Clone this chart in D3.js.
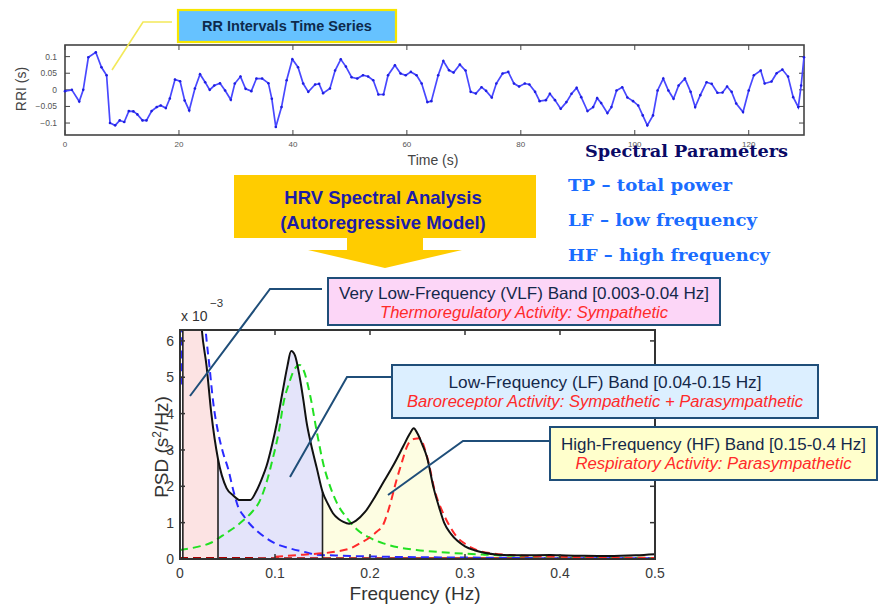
<!DOCTYPE html>
<html>
<head>
<meta charset="utf-8">
<script src="https://cdn.jsdelivr.net/npm/d3@7"></script>
<style>
  body { margin: 0; background: #fff; }
  svg { display: block; font-family: "Liberation Sans", Arial, sans-serif; }
</style>
</head>
<body>
<svg id="fig" width="887" height="610"></svg>
<script>
// ---- RR interval time series ----
const rrTime = [0, 1.2, 2.5, 3.2, 4.1, 5.4, 6.4, 7.3, 7.9, 8.8, 9.6, 10.4, 11.2, 12, 12.7, 13.6, 14.3, 15.2, 16.1, 16.8,
  17.7, 18.4, 19.3, 20.2, 21, 21.8, 22.8, 23.7, 24.6, 25.4, 26.2, 27.2, 28.1, 29.1, 29.8, 30.8, 31.7, 32.7, 33.6, 34.6,
  35.7, 36.3, 37, 38, 38.9, 39.9, 40.9, 41.8, 42.7, 43.9, 44.6, 45.3, 46.5, 47.4, 48.4, 49.3, 50.3, 51.3, 52.3, 53.2,
  54.1, 55, 55.9, 56.7, 57.9, 58.9, 59.8, 60.7, 61.7, 62.6, 63.6, 64.3, 65.5, 66.4, 67.4, 68.2, 69.3, 70.3, 71.2, 72.1,
  73.1, 73.9, 74.9, 75.7, 76.8, 77.8, 78.8, 79.7, 80.7, 81.5, 82.5, 83.3, 84.4, 85.1, 86, 87, 88, 88.9, 89.8, 90.6,
  91.7, 92.7, 93.4, 94.1, 95.2, 95.9, 96.8, 97.8, 98.7, 99.7, 100.6, 101.4, 102.2, 103.2, 104, 105, 105.9, 106.8, 107.7, 108.8,
  109.8, 110.6, 111.5, 112.6, 113.5, 114.5, 115.4, 116.2, 117, 117.8, 119, 120, 120.9, 122.1, 122.8, 124, 124.9, 125.9, 126.9, 127.8,
  128.7, 129.2, 129.7];
const rrValue = [-0.004, 0, -0.035, 0, 0.098, 0.113, 0.068, 0.044, -0.1, -0.107, -0.092, -0.097, -0.064, -0.065, -0.074, -0.092, -0.092, -0.064, -0.052, -0.047,
  -0.055, -0.026, 0.031, 0.026, -0.032, -0.062, 0.004, 0.047, 0.023, 0, 0.013, 0.02, -0.002, -0.03, 0.019, 0.04, 0.003, -0.004, 0.034, 0.034,
  0.02, -0.027, -0.112, -0.052, 0.029, 0.092, 0.068, 0.019, -0.006, 0.016, 0.018, -0.01, 0.004, 0.058, 0.092, 0.07, 0.038, 0.034, 0.044, 0.04,
  0.029, -0.014, -0.014, 0.044, 0.074, 0.049, 0.044, 0.054, 0.044, 0.019, -0.037, -0.034, 0.044, 0.087, 0.059, 0.052, 0.076, 0.058, -0.006, -0.011,
  0.008, -0.003, -0.023, 0.019, 0.049, 0.054, 0.019, 0.01, 0.019, 0.016, -0.006, -0.034, -0.031, -0.012, -0.031, -0.057, -0.037, -0.012, 0.006, -0.022,
  -0.064, -0.052, -0.025, -0.04, -0.07, -0.052, -0.002, 0.008, -0.023, -0.034, -0.047, -0.077, -0.107, -0.077, -0.002, 0.034, -0.002, -0.027, 0.013, 0.034,
  -0.006, -0.052, -0.016, 0.023, 0.018, -0.009, -0.008, 0.01, -0.006, -0.041, -0.067, -0.002, 0.044, 0.058, 0.019, 0.025, 0.05, 0.061, 0.04, -0.022,
  -0.052, 0.013, 0.098];
const rrXTicks = [0, 20, 40, 60, 80, 100, 120];
const rrYTicks = [-0.1, -0.05, 0, 0.05, 0.1];

// ---- PSD (x 10^-3 s^2/Hz) ----
const totalFreq = [0.003, 0.021, 0.023, 0.028, 0.033, 0.04, 0.049, 0.056, 0.063, 0.074, 0.08, 0.086, 0.091, 0.097, 0.102, 0.108, 0.113, 0.117, 0.121, 0.126,
  0.13, 0.133, 0.138, 0.144, 0.15, 0.156, 0.161, 0.167, 0.172, 0.178, 0.185, 0.195, 0.205, 0.215, 0.225, 0.235, 0.242, 0.246, 0.25, 0.255,
  0.26, 0.267, 0.273, 0.278, 0.285, 0.292, 0.3, 0.31, 0.32, 0.335, 0.36, 0.39, 0.4, 0.42, 0.45, 0.48, 0.5];
const totalPsd = [7, 7, 6.3, 5.3, 4.0, 2.75, 1.95, 1.75, 1.62, 1.62, 1.85, 2.2, 2.55, 3.15, 3.75, 4.6, 5.3, 5.72, 5.6, 5.0,
  4.35, 3.8, 3.15, 2.5, 1.85, 1.5, 1.26, 1.1, 1.02, 0.97, 1.05, 1.3, 1.7, 2.15, 2.6, 3.1, 3.45, 3.6, 3.45, 3.15,
  2.8, 1.95, 1.4, 1.0, 0.7, 0.5, 0.35, 0.24, 0.17, 0.12, 0.1, 0.11, 0.1, 0.09, 0.08, 0.1, 0.13];
const vlfFreq = [0.001, 0.003, 0.025, 0.027, 0.031, 0.035, 0.04, 0.045, 0.051, 0.056, 0.061, 0.068, 0.074, 0.082, 0.091, 0.1, 0.116, 0.13, 0.144, 0.17,
  0.2, 0.25, 0.3, 0.35, 0.4, 0.5];
const vlfPsd = [4.8, 7, 7, 6.3, 5.3, 4.3, 3.5, 2.95, 2.45, 1.9, 1.45, 1.15, 0.95, 0.75, 0.57, 0.43, 0.29, 0.2, 0.12, 0.09,
  0.07, 0.05, 0.04, 0.03, 0.02, 0.02];
const lfFreq = [0, 0.016, 0.032, 0.049, 0.058, 0.067, 0.076, 0.084, 0.091, 0.098, 0.104, 0.109, 0.115, 0.12, 0.126, 0.13, 0.137, 0.144, 0.151, 0.158,
  0.165, 0.175, 0.186, 0.2, 0.214, 0.23, 0.249, 0.284, 0.32, 0.36, 0.4, 0.45, 0.5];
const lfPsd = [0.25, 0.32, 0.44, 0.72, 0.88, 1.07, 1.3, 1.6, 2.1, 2.8, 3.5, 4.3, 4.85, 5.2, 5.34, 5.2, 4.5, 3.5, 2.6, 2.0,
  1.55, 1.15, 0.82, 0.58, 0.43, 0.32, 0.25, 0.17, 0.12, 0.08, 0.06, 0.04, 0.03];
const hfFreq = [0.1, 0.13, 0.163, 0.18, 0.19, 0.2, 0.207, 0.214, 0.22, 0.228, 0.234, 0.239, 0.246, 0.2526, 0.258, 0.263, 0.267, 0.277, 0.284, 0.291,
  0.3, 0.312, 0.33, 0.354, 0.4, 0.45, 0.5];
const hfPsd = [0.06, 0.12, 0.2, 0.3, 0.44, 0.6, 0.75, 0.95, 1.4, 2.18, 2.7, 3.1, 3.3, 3.32, 3.0, 2.5, 2.0, 1.26, 0.9, 0.62,
  0.42, 0.25, 0.15, 0.1, 0.06, 0.04, 0.03];
const otherFreq = [0, 0.05, 0.1, 0.2, 0.3, 0.4, 0.5];
const otherPsd = [0.03, 0.03, 0.02, 0.02, 0.02, 0.02, 0.02];
const psdXTicks = [0, 0.1, 0.2, 0.3, 0.4, 0.5];
const psdYTicks = [0, 1, 2, 3, 4, 5, 6];
const bandEdges = [0.003, 0.04, 0.15, 0.4];

const svg = d3.select("#fig");

// ================= top: RR intervals =================
const xRR = d3.scaleLinear().domain([0, 129.7]).range([65, 804]);
const yRR = d3.scaleLinear().domain([-0.136, 0.135]).range([135, 45]);
const rrPanel = svg.append("g");

rrPanel.append("rect").attr("x", 65).attr("y", 45).attr("width", 739).attr("height", 90)
  .attr("fill", "#fff").attr("stroke", "#444").attr("stroke-width", 1.6);

// inward ticks on all four sides
rrXTicks.forEach(t => {
  rrPanel.append("line").attr("x1", xRR(t)).attr("x2", xRR(t)).attr("y1", 135).attr("y2", 130).attr("stroke", "#444");
  rrPanel.append("line").attr("x1", xRR(t)).attr("x2", xRR(t)).attr("y1", 45).attr("y2", 50).attr("stroke", "#444");
  rrPanel.append("text").attr("x", xRR(t)).attr("y", 147).attr("text-anchor", "middle")
    .attr("font-size", 8).attr("fill", "#555").text(t);
});
rrYTicks.forEach(v => {
  rrPanel.append("line").attr("x1", 65).attr("x2", 70).attr("y1", yRR(v)).attr("y2", yRR(v)).attr("stroke", "#444");
  rrPanel.append("line").attr("x1", 804).attr("x2", 799).attr("y1", yRR(v)).attr("y2", yRR(v)).attr("stroke", "#444");
  rrPanel.append("text").attr("x", 57).attr("y", yRR(v) + 3).attr("text-anchor", "end")
    .attr("font-size", 8.5).attr("fill", "#555").text(v === 0 ? "0" : d3.format("")(v));
});

const rrPts = rrTime.map((t, i) => [t, rrValue[i]]);
rrPanel.append("path").datum(rrPts)
  .attr("fill", "none").attr("stroke", "#4848ff").attr("stroke-width", 1.7)
  .attr("d", d3.line().x(d => xRR(d[0])).y(d => yRR(d[1])));
rrPanel.selectAll("circle.rr").data(rrPts).enter().append("circle")
  .attr("class", "rr").attr("cx", d => xRR(d[0])).attr("cy", d => yRR(d[1])).attr("r", 1.3).attr("fill", "#1f1fe0");

rrPanel.append("text").attr("x", 433).attr("y", 165).attr("text-anchor", "middle")
  .attr("font-size", 14).attr("fill", "#444").text("Time (s)");
rrPanel.append("text").attr("transform", "translate(26,89) rotate(-90)").attr("text-anchor", "middle")
  .attr("font-size", 14).attr("fill", "#444").text("RRI (s)");

// title callout
rrPanel.append("polyline").attr("points", "172,22 143,22 112,70")
  .attr("fill", "none").attr("stroke", "#f3e95a").attr("stroke-width", 1.6);
rrPanel.append("rect").attr("x", 178).attr("y", 10).attr("width", 218).attr("height", 32)
  .attr("fill", "#66c2ff").attr("stroke", "#f7e600").attr("stroke-width", 2.2);
rrPanel.append("text").attr("x", 287).attr("y", 31).attr("text-anchor", "middle")
  .attr("font-size", 14.5).attr("font-weight", "bold").attr("fill", "#0e2a4c").text("RR Intervals Time Series");

// ================= arrow =================
svg.append("path")
  .attr("d", "M234,175 H536 V238 H423 V250 H462 L385,268 L308,250 H347 V238 H234 Z")
  .attr("fill", "#ffcc00");
svg.append("text").attr("x", 383).attr("y", 204).attr("text-anchor", "middle")
  .attr("font-size", 18.5).attr("font-weight", "bold").attr("fill", "#1c1ca8").text("HRV Spectral Analysis");
svg.append("text").attr("x", 383).attr("y", 229).attr("text-anchor", "middle")
  .attr("font-size", 18.5).attr("font-weight", "bold").attr("fill", "#1c1ca8").text("(Autoregressive Model)");

// ================= spectral parameters list =================
const serif = "'DejaVu Serif', 'Liberation Serif', serif";
svg.append("text").attr("x", 585).attr("y", 157).attr("font-family", serif).attr("font-weight", "bold")
  .attr("font-size", 17).attr("fill", "#0a0a66").attr("textLength", 203).attr("lengthAdjust", "spacingAndGlyphs")
  .text("Spectral Parameters");
const params = [["TP \u2013 total power", 191, 164], ["LF \u2013 low frequency", 226, 189], ["HF \u2013 high frequency", 261, 202]];
params.forEach(p => {
  svg.append("text").attr("x", 568).attr("y", p[1]).attr("font-family", serif).attr("font-weight", "bold")
    .attr("font-size", 17).attr("fill", "#1a6cff").attr("textLength", p[2]).attr("lengthAdjust", "spacingAndGlyphs")
    .text(p[0]);
});

// ================= PSD plot =================
const x = d3.scaleLinear().domain([0, 0.5]).range([180, 655]);
const y = d3.scaleLinear().domain([0, 6.3]).range([559, 330]);
const psd = svg.append("g");

svg.append("defs").append("clipPath").attr("id", "clip")
  .append("rect").attr("x", 180).attr("y", 330).attr("width", 475).attr("height", 229);

const totalPts = totalFreq.map((f, i) => [f, totalPsd[i]]);
const plot = psd.append("g").attr("clip-path", "url(#clip)");

// band shading under the total spectrum
const bandColors = ["#fce3e3", "#e4e4fa", "#fdfde2"];
const area = d3.area().x(d => x(d[0])).y0(y(0)).y1(d => y(d[1])).curve(d3.curveMonotoneX);
const interpTotal = f => {
  const i = d3.bisectLeft(totalFreq, f);
  if (totalFreq[i] === f || i === 0) return totalPsd[i];
  const t = (f - totalFreq[i - 1]) / (totalFreq[i] - totalFreq[i - 1]);
  return totalPsd[i - 1] + t * (totalPsd[i] - totalPsd[i - 1]);
};
for (let b = 0; b < 3; b++) {
  const lo = bandEdges[b], hi = bandEdges[b + 1];
  const pts = totalPts.filter(d => d[0] > lo && d[0] < hi);
  pts.unshift([lo, interpTotal(lo)]);
  pts.push([hi, interpTotal(hi)]);
  plot.append("path").datum(pts).attr("fill", bandColors[b]).attr("d", area);
}

// components (dashed)
const line = d3.line().x(d => x(d[0])).y(d => y(d[1])).curve(d3.curveMonotoneX);
const comps = [
  [otherFreq, otherPsd, "#aa0000"],
  [vlfFreq, vlfPsd, "#2a2aff"],
  [lfFreq, lfPsd, "#22e022"],
  [hfFreq, hfPsd, "#ff2a2a"]
];
comps.forEach(c => {
  plot.append("path").datum(c[0].map((f, i) => [f, c[1][i]]))
    .attr("fill", "none").attr("stroke", c[2]).attr("stroke-width", 2)
    .attr("stroke-dasharray", "8,5").attr("d", line);
});

// band boundaries
bandEdges.slice(0, 3).forEach(f => {
  plot.append("line").attr("x1", x(f)).attr("x2", x(f)).attr("y1", y(0)).attr("y2", y(Math.min(interpTotal(f), 7)))
    .attr("stroke", "#222").attr("stroke-width", 1.6);
});

// total spectrum
plot.append("path").datum(totalPts).attr("fill", "none").attr("stroke", "#111")
  .attr("stroke-width", 2).attr("d", line);

// frame + ticks
psd.append("rect").attr("x", 180).attr("y", 330).attr("width", 475).attr("height", 229)
  .attr("fill", "none").attr("stroke", "#333").attr("stroke-width", 2);
psdXTicks.forEach(t => {
  psd.append("line").attr("x1", x(t)).attr("x2", x(t)).attr("y1", 559).attr("y2", 554).attr("stroke", "#333").attr("stroke-width", 1.5);
  psd.append("line").attr("x1", x(t)).attr("x2", x(t)).attr("y1", 330).attr("y2", 335).attr("stroke", "#333").attr("stroke-width", 1.5);
  psd.append("text").attr("x", x(t)).attr("y", 578).attr("text-anchor", "middle")
    .attr("font-size", 14).attr("fill", "#3a3a3a").text(t);
});
psdYTicks.forEach(v => {
  psd.append("line").attr("x1", 180).attr("x2", 185).attr("y1", y(v)).attr("y2", y(v)).attr("stroke", "#333").attr("stroke-width", 1.5);
  psd.append("line").attr("x1", 655).attr("x2", 650).attr("y1", y(v)).attr("y2", y(v)).attr("stroke", "#333").attr("stroke-width", 1.5);
  psd.append("text").attr("x", 174).attr("y", y(v) + 5).attr("text-anchor", "end")
    .attr("font-size", 14).attr("fill", "#3a3a3a").text(v);
});

psd.append("text").attr("x", 181).attr("y", 321).attr("font-size", 14).attr("fill", "#333").text("x 10");
psd.append("text").attr("x", 210).attr("y", 307).attr("font-size", 11.5).attr("fill", "#333").text("\u22123");

psd.append("text").attr("x", 415).attr("y", 600).attr("text-anchor", "middle")
  .attr("font-size", 19).attr("fill", "#333").text("Frequency (Hz)");
const yl = psd.append("text").attr("transform", "translate(168,447) rotate(-90)").attr("text-anchor", "middle")
  .attr("font-size", 19).attr("fill", "#333");
yl.append("tspan").text("PSD (s");
yl.append("tspan").attr("font-size", 12).attr("dy", -7).text("2");
yl.append("tspan").attr("dy", 7).text("/Hz)");

// ================= band callouts =================
const callouts = [
  { leader: "322,289 270,289 190,396", box: [328, 278, 392, 47], fill: "#fcd6f7",
    t1: "Very Low-Frequency (VLF) Band [0.003-0.04 Hz]", w1: 370, t2: "Thermoregulatory Activity: Sympathetic", w2: 288, ty: 299 },
  { leader: "391,377 347,377 290,477", box: [392, 365, 426, 53], fill: "#dcefff",
    t1: "Low-Frequency (LF) Band [0.04-0.15 Hz]", w1: 313, t2: "Baroreceptor Activity: Sympathetic + Parasympathetic", w2: 396, ty: 388 },
  { leader: "550,441 463,441 388,495", box: [550, 427, 327, 53], fill: "#ffffcc",
    t1: "High-Frequency (HF) Band [0.15-0.4 Hz]", w1: 305, t2: "Respiratory Activity: Parasympathetic", w2: 276, ty: 450 }
];
callouts.forEach(c => {
  svg.append("polyline").attr("points", c.leader).attr("fill", "none")
    .attr("stroke", "#1f4e79").attr("stroke-width", 2);
  const [bx, by, bw, bh] = c.box;
  svg.append("rect").attr("x", bx).attr("y", by).attr("width", bw).attr("height", bh)
    .attr("fill", c.fill).attr("stroke", "#1f4e79").attr("stroke-width", 2);
  svg.append("text").attr("x", bx + bw / 2).attr("y", c.ty).attr("text-anchor", "middle")
    .attr("font-size", 16.5).attr("fill", "#14284a")
    .attr("textLength", c.w1).attr("lengthAdjust", "spacingAndGlyphs").text(c.t1);
  svg.append("text").attr("x", bx + bw / 2).attr("y", c.ty + 19).attr("text-anchor", "middle")
    .attr("font-size", 16).attr("font-style", "italic").attr("fill", "#ff2a2a")
    .attr("textLength", c.w2).attr("lengthAdjust", "spacingAndGlyphs").text(c.t2);
});
</script>
</body>
</html>
